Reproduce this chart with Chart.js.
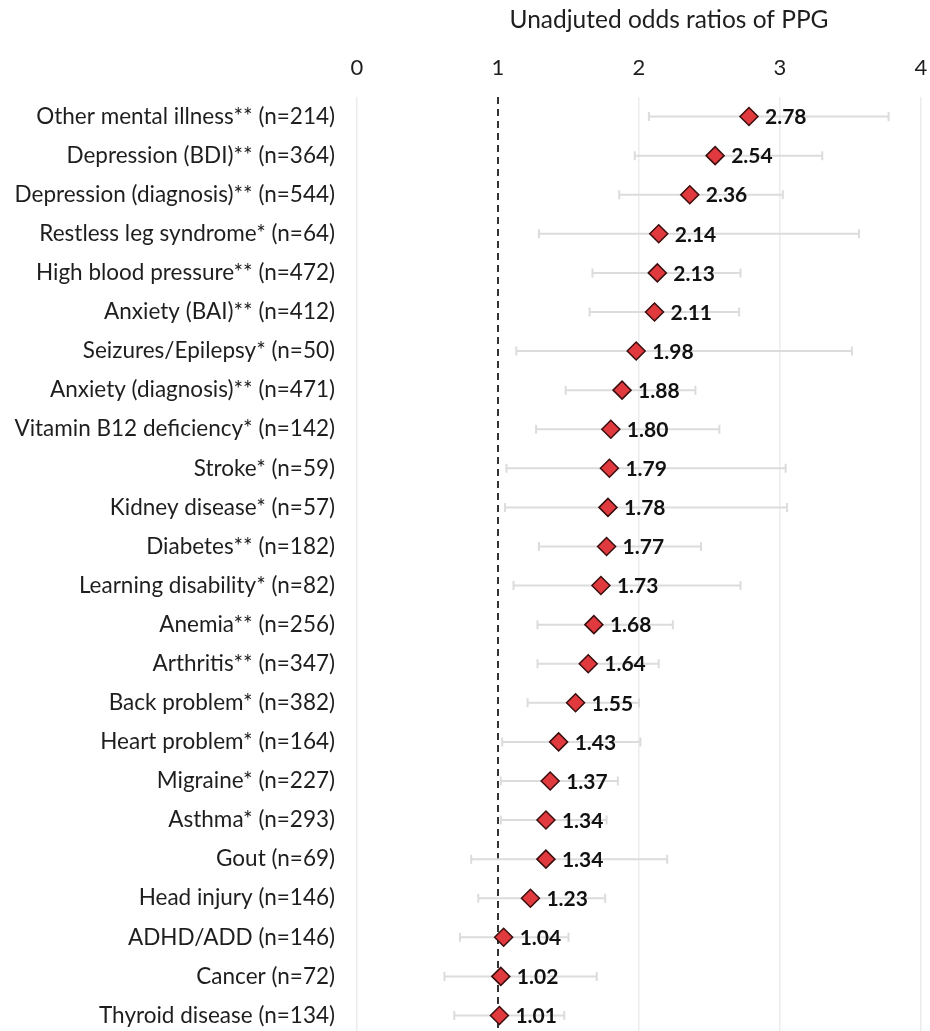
<!DOCTYPE html>
<html>
<head>
<meta charset="utf-8">
<script src="https://cdn.jsdelivr.net/npm/chart.js@4.4.1/dist/chart.umd.min.js"></script>
<style>
  html, body { margin: 0; padding: 0; background: #ffffff; overflow: hidden; }
  #wrap { width: 930px; height: 1035px; position: relative; }
  canvas { display: block; }
</style>
</head>
<body>
<div id="wrap"><canvas id="forest" width="930" height="1035"></canvas></div>
<script>
// Conditions, top to bottom
const conditions = [
  'Other mental illness** (n=214)',
  'Depression (BDI)** (n=364)',
  'Depression (diagnosis)** (n=544)',
  'Restless leg syndrome* (n=64)',
  'High blood pressure** (n=472)',
  'Anxiety (BAI)** (n=412)',
  'Seizures/Epilepsy* (n=50)',
  'Anxiety (diagnosis)** (n=471)',
  'Vitamin B12 deficiency* (n=142)',
  'Stroke* (n=59)',
  'Kidney disease* (n=57)',
  'Diabetes** (n=182)',
  'Learning disability* (n=82)',
  'Anemia** (n=256)',
  'Arthritis** (n=347)',
  'Back problem* (n=382)',
  'Heart problem* (n=164)',
  'Migraine* (n=227)',
  'Asthma* (n=293)',
  'Gout (n=69)',
  'Head injury (n=146)',
  'ADHD/ADD (n=146)',
  'Cancer (n=72)',
  'Thyroid disease (n=134)'
];

// Unadjusted odds ratios
const oddsRatios = [2.78, 2.54, 2.36, 2.14, 2.13, 2.11, 1.98, 1.88, 1.80, 1.79, 1.78, 1.77,
                    1.73, 1.68, 1.64, 1.55, 1.43, 1.37, 1.34, 1.34, 1.23, 1.04, 1.02, 1.01];

// 95% confidence interval bounds
const ciLower = [2.07, 1.97, 1.86, 1.29, 1.67, 1.65, 1.13, 1.48, 1.27, 1.06, 1.05, 1.29,
                 1.11, 1.28, 1.28, 1.21, 1.03, 1.02, 1.02, 0.81, 0.86, 0.73, 0.62, 0.69];
const ciUpper = [3.77, 3.30, 3.02, 3.56, 2.72, 2.71, 3.51, 2.40, 2.57, 3.04, 3.05, 2.44,
                 2.72, 2.24, 2.14, 2.00, 2.01, 1.85, 1.77, 2.20, 1.76, 1.50, 1.70, 1.47];

// Axis
const xTicks = [0, 1, 2, 3, 4];
const referenceValue = 1;
const axisTitle = 'Unadjuted odds ratios of PPG';

const FONT = 'Lato, "Open Sans", sans-serif';
const TEXT = '#1e1e1e';

// Horizontal CI whiskers with end caps
const ciWhiskers = {
  id: 'ciWhiskers',
  beforeDatasetsDraw(chart) {
    const { ctx, scales: { x, y } } = chart;
    ctx.save();
    ctx.strokeStyle = '#dcdcdc';
    ctx.lineWidth = 2;
    ciLower.forEach((lo, i) => {
      const yy = y.getPixelForValue(i);
      const x0 = x.getPixelForValue(lo);
      const x1 = x.getPixelForValue(ciUpper[i]);
      ctx.beginPath();
      ctx.moveTo(x0, yy); ctx.lineTo(x1, yy);
      ctx.moveTo(x0, yy - 4.5); ctx.lineTo(x0, yy + 4.5);
      ctx.moveTo(x1, yy - 4.5); ctx.lineTo(x1, yy + 4.5);
      ctx.stroke();
    });
    ctx.restore();
  }
};

// Dashed line marking OR = 1
const referenceLine = {
  id: 'referenceLine',
  beforeDatasetsDraw(chart) {
    const { ctx, chartArea, scales: { x } } = chart;
    const px = Math.round(x.getPixelForValue(referenceValue));
    ctx.save();
    ctx.strokeStyle = '#333333';
    ctx.lineWidth = 2;
    ctx.setLineDash([7, 5]);
    ctx.beginPath();
    ctx.moveTo(px, chartArea.top);
    ctx.lineTo(px, chartArea.bottom);
    ctx.stroke();
    ctx.restore();
  }
};

// Value labels to the right of each marker
const valueLabels = {
  id: 'valueLabels',
  afterDatasetsDraw(chart) {
    const { ctx } = chart;
    const meta = chart.getDatasetMeta(0);
    ctx.save();
    ctx.font = 'bold 21px ' + FONT;
    ctx.fillStyle = '#111111';
    ctx.textAlign = 'left';
    ctx.textBaseline = 'middle';
    meta.data.forEach((pt, i) => {
      ctx.fillText(oddsRatios[i].toFixed(2), pt.x + 16, pt.y + 1);
    });
    ctx.restore();
  }
};

// Axis title above the tick labels
const topTitle = {
  id: 'topTitle',
  afterDraw(chart) {
    const { ctx, chartArea } = chart;
    ctx.save();
    ctx.font = '24.5px ' + FONT;
    ctx.fillStyle = TEXT;
    ctx.textAlign = 'center';
    ctx.textBaseline = 'middle';
    ctx.fillText(axisTitle, (chartArea.left + chartArea.right) / 2 + 30, 20);
    ctx.restore();
  }
};

new Chart(document.getElementById('forest'), {
  type: 'line',
  data: {
    labels: conditions,
    datasets: [{
      data: oddsRatios,
      showLine: false,
      pointStyle: 'rectRot',
      pointRadius: 9,
      pointHoverRadius: 9,
      backgroundColor: '#e03a3e',
      borderColor: '#3a0e0e',
      borderWidth: 1.5
    }]
  },
  options: {
    responsive: false,
    animation: false,
    indexAxis: 'y',
    layout: { autoPadding: false, padding: { top: 0, right: 9, bottom: 0, left: 0 } },
    plugins: {
      legend: { display: false },
      tooltip: { enabled: false }
    },
    scales: {
      x: {
        type: 'linear',
        position: 'top',
        min: 0,
        max: 4,
        afterBuildTicks(scale) { scale.ticks = xTicks.map(v => ({ value: v })); },
        afterFit(scale) {
          scale.height = 97;
          scale.paddingLeft = 0;
          scale.paddingRight = 0;
        },
        ticks: {
          font: { family: FONT, size: 22 },
          color: TEXT,
          padding: 16
        },
        grid: {
          drawTicks: false,
          lineWidth: 1.5,
          color: ctx => (ctx.tick && ctx.tick.value === referenceValue) ? 'rgba(0,0,0,0)' : '#ececec'
        },
        border: { display: false }
      },
      y: {
        type: 'category',
        offset: true,
        afterFit(scale) {
          scale.width = 357;
          scale.paddingTop = 0;
          scale.paddingBottom = 0;
        },
        ticks: {
          font: { family: FONT, size: 22.5 },
          color: TEXT,
          padding: 14
        },
        grid: { display: false },
        border: { display: false }
      }
    }
  },
  plugins: [referenceLine, ciWhiskers, valueLabels, topTitle]
});
</script>
</body>
</html>
